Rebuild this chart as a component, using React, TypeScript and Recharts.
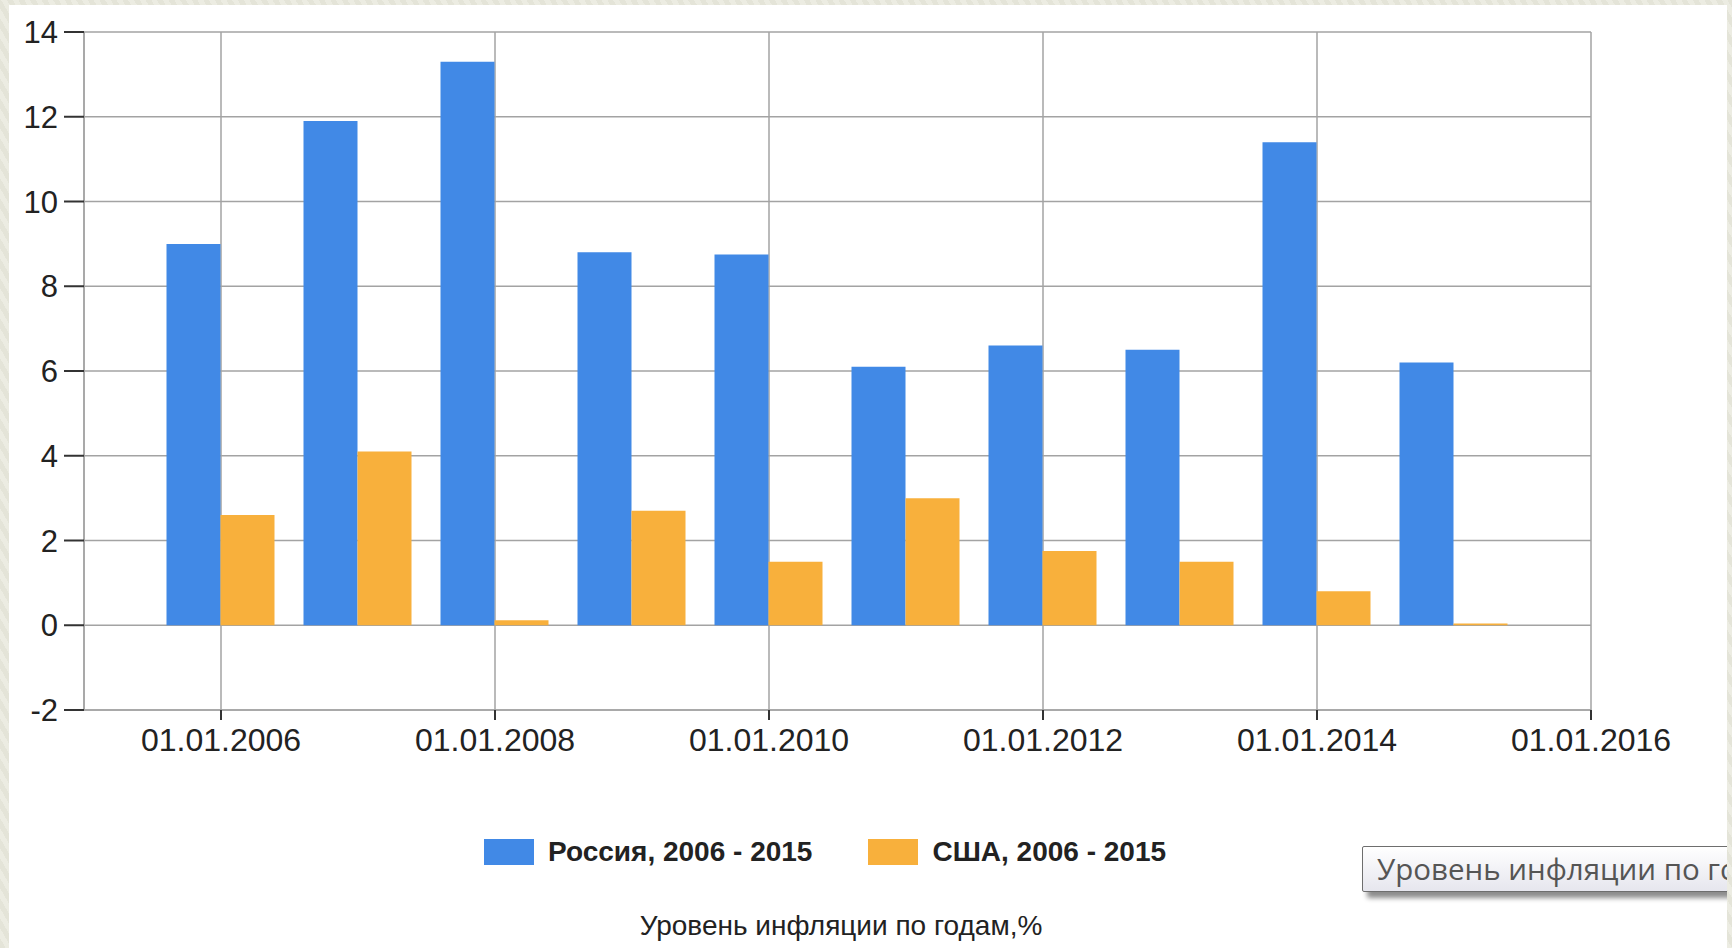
import { BarChart, Bar, XAxis, YAxis, CartesianGrid, Legend } from "recharts";

const YEARS = [2006, 2007, 2008, 2009, 2010, 2011, 2012, 2013, 2014, 2015];
const RUSSIA = [9.0, 11.9, 13.3, 8.8, 8.75, 6.1, 6.6, 6.5, 11.4, 6.2];
const USA = [2.6, 4.1, 0.12, 2.7, 1.5, 3.0, 1.75, 1.5, 0.8, 0.04];
const X_TICKS = [2006, 2008, 2010, 2012, 2014, 2016];
const Y_TICKS = [-2, 0, 2, 4, 6, 8, 10, 12, 14];
const SERIES_NAMES = ["Россия, 2006 - 2015", "США, 2006 - 2015"];
const TITLE = "Уровень инфляции по годам,%";
const BADGE = "Уровень инфляции по годам,%";

const BLUE = "#4189e6"; // Россия
const ORANGE = "#f8b03c"; // США
const GRID = "#a3a3a3";

const data = YEARS.map((year, i) => ({
  year,
  russia: RUSSIA[i],
  usa: USA[i],
}));

const tickFont = { fontFamily: "'Liberation Sans', Arial, sans-serif", fill: "#222" };

function LegendContent() {
  const colors = [BLUE, ORANGE];
  return (
    <div style={{ display: "flex", alignItems: "center" }}>
      {SERIES_NAMES.map((name, i) => (
        <div
          key={name}
          style={{ display: "flex", alignItems: "center", marginRight: i === 0 ? 56 : 0 }}
        >
          <div style={{ width: 50, height: 26, background: colors[i], marginRight: 14 }} />
          <span
            style={{
              fontFamily: "'Liberation Sans', Arial, sans-serif",
              fontSize: 28,
              fontWeight: 700,
              color: "#222",
            }}
          >
            {name}
          </span>
        </div>
      ))}
    </div>
  );
}

export default function App() {
  return (
    <div
      style={{
        position: "fixed",
        left: 0,
        top: 0,
        width: 1732,
        height: 948,
        overflow: "hidden",
        background:
          "repeating-linear-gradient(60deg, #e4e4d8 0px, #e4e4d8 5px, #ecece2 5px, #ecece2 10px)",
      }}
    >
      {/* white slide panel */}
      <div
        style={{
          position: "absolute",
          left: 9,
          top: 5,
          width: 1718,
          height: 943,
          background: "#fff",
        }}
      />

      <div style={{ position: "absolute", left: 0, top: 0 }}>
        <BarChart
          width={1732}
          height={948}
          data={data}
          margin={{ top: 32, right: 141, bottom: 178, left: 0 }}
          barGap={0}
          barSize={54}
        >
          <CartesianGrid stroke={GRID} strokeWidth={1.5} />
          <XAxis
            dataKey="year"
            type="number"
            domain={[2005, 2016]}
            ticks={X_TICKS}
            tickFormatter={(v) => `01.01.${v}`}
            height={60}
            axisLine={{ stroke: GRID, strokeWidth: 1.5 }}
            tickLine={{ stroke: "#333", strokeWidth: 2 }}
            tickSize={10}
            tickMargin={8}
            tick={{ ...tickFont, fontSize: 32 }}
            interval={0}
          />
          <YAxis
            type="number"
            domain={[-2, 14]}
            ticks={Y_TICKS}
            width={84}
            axisLine={{ stroke: GRID, strokeWidth: 1.5 }}
            tickLine={{ stroke: "#333", strokeWidth: 2 }}
            tickSize={20}
            tickMargin={6}
            tick={{ ...tickFont, fontSize: 31 }}
            interval={0}
          />
          <Legend
            layout="horizontal"
            verticalAlign="middle"
            align="center"
            content={<LegendContent />}
            wrapperStyle={{ top: 836, left: 484, width: "auto" }}
          />
          <Bar dataKey="russia" name={SERIES_NAMES[0]} fill={BLUE} isAnimationActive={false} />
          <Bar dataKey="usa" name={SERIES_NAMES[1]} fill={ORANGE} isAnimationActive={false} />
        </BarChart>
      </div>

      {/* chart caption */}
      <div
        style={{
          position: "absolute",
          left: 541,
          top: 910,
          width: 600,
          textAlign: "center",
          fontFamily: "'Liberation Sans', Arial, sans-serif",
          fontSize: 28,
          color: "#222",
          whiteSpace: "nowrap",
        }}
      >
        {TITLE}
      </div>

      {/* hover badge, cut off by the slide edge */}
      <div
        style={{
          position: "absolute",
          left: 1362,
          top: 846,
          width: 365,
          height: 62,
          overflow: "hidden",
        }}
      >
        <div
          style={{
            position: "absolute",
            left: 0,
            top: 0,
            width: 480,
            height: 46,
            border: "1px solid #6e6e6e",
            borderRadius: 2,
            background: "linear-gradient(#ffffff, #e6e6ee)",
            boxShadow: "5px 6px 5px rgba(0,0,0,0.45)",
            fontFamily: "'Open Sans', 'Noto Sans', sans-serif",
            fontSize: 29.5,
            lineHeight: "44px",
            color: "#555",
            paddingLeft: 14,
            whiteSpace: "nowrap",
            boxSizing: "border-box",
          }}
        >
          {BADGE}
        </div>
      </div>
    </div>
  );
}
